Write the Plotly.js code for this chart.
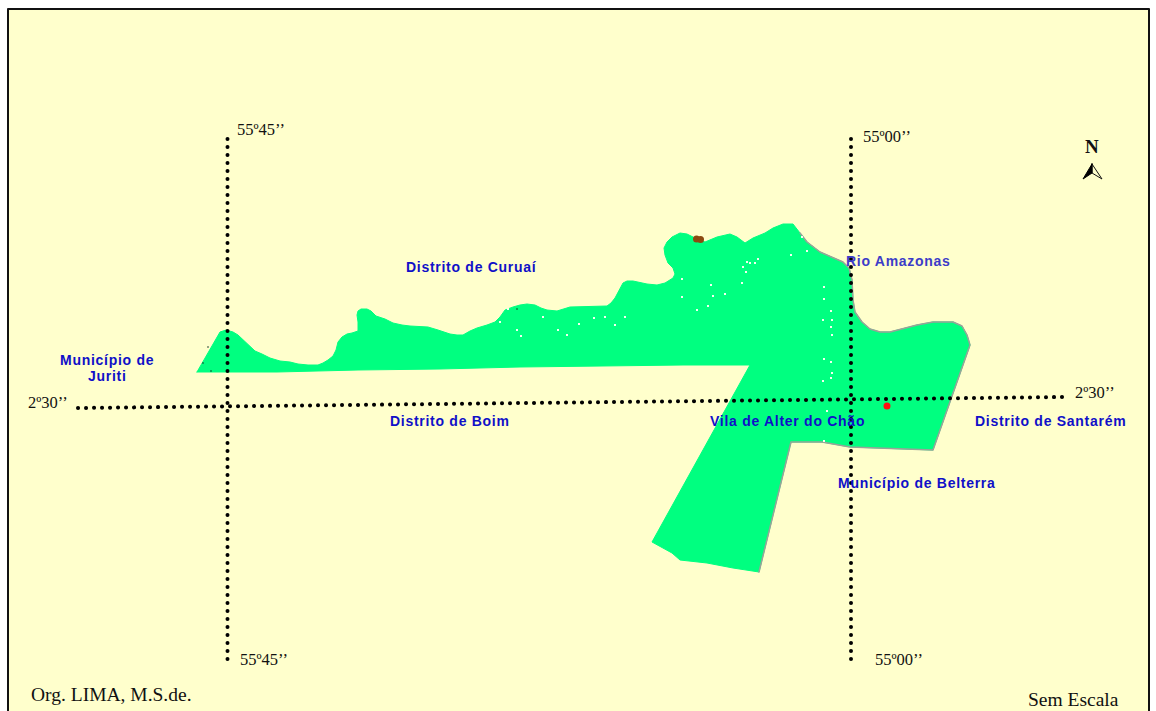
<!DOCTYPE html>
<html><head><meta charset="utf-8">
<script src="https://cdn.plot.ly/plotly-3.0.1.min.js"></script>
<style>html,body{margin:0;padding:0;background:#fff}.js-line{stroke-linecap:round;stroke-linejoin:round}
.annotation-text[style*="Liberation Sans"]{letter-spacing:.72px}</style>
</head><body><div id="chart" style="width:1156px;height:711px"></div>
<script>
const frameX=[8,1149,1149,8,8];
const frameY=[9,9,720,720,9];
const areaX=[197,205,213,220,226,233,238,245,255,262,270,280,290,298,308,318,323,328,333,336,338,342,347,352,358,358,357,358,361,367,371,376,385,393,402,410,428,438,450,457,463,470,477,487,495,500,505,513,520,527,535,541,547,557,570,607,611,615,619,623,627,633,647,657,665,673,675,673,668,665,664,667,672,680,687,695,705,717,730,737,745,753,765,773,783,793,800,807,820,832,843,849,852,853,855,862,870,880,890,917,933,953,962,967,970,933,887,850,822,791,759,733,707,680,672,652,750,683,602,520,440,358,277,197];
const areaY=[372,358,344,332,330,332,335,342,351,354,358,361,362,364,365,365,363,360,356,350,342,337,334,333,331,322,315,311,309,309,311,316,319,323,325,326,327,330,334,335,335,331,328,325,322,317,310,307,305,304,305,308,310,311,307,306,303,298,290,283,281,281,284,285,283,278,274,268,263,255,248,242,237,233,234,238,242,237,234,237,243,238,233,228,224,224,233,242,252,257,262,268,280,300,312,322,329,332,332,325,322,322,326,335,345,450,448,447,442,442,572,568,563,560,553,542,365,365,366,367,369,370,372,372];
const edgeX=[800,807,820,832,843,849,852,853,855,862,870,880,890,917,933,953,962,967,970,933,887,850,822,791,759];
const edgeY=[233,242,252,257,262,268,280,300,312,322,329,332,332,325,322,322,326,335,345,450,448,447,442,442,572];
const speckX=[747,750,755,758,743,746,711,725,742,682,682,697,708,713,824,824,831,823,832,831,832,824,831,832,831,823,827,824,802,791,807,517,521,543,558,567,579,594,605,615,625,500,508];
const speckY=[262,263,263,259,267,272,285,294,283,279,297,310,306,296,287,299,311,320,320,327,335,359,362,373,378,381,411,441,237,255,251,330,336,317,330,335,324,318,317,325,317,322,309];
const darkX=[208,203,211,517];
const darkY=[347,363,371,309];
const blotchX=[696.5,700.5], blotchY=[239,239.5];
const meridian1X=[227.5,227.5], meridian1Y=[139,667];
const meridian2X=[851,851], meridian2Y=[139,660];
const parallelX=[78,1065], parallelY=[408,397];
const arrowDarkX=[1092,1083,1092,1092], arrowDarkY=[164,179,173,164];
const arrowLightX=[1092,1102,1092,1092], arrowLightY=[164,179,173,164];
const labels=[
 ["Distrito de Curuaí",405,267,"#1010c8"],["Rio Amazonas",845,261,"#3c3cc8"],
 ["Distrito de Boim",389,421,"#1010c8"],["Vila de Alter do Chão",709,421,"#1010c8"],
 ["Distrito de Santarém",974,421,"#1010c8"],["Município de Belterra",837,483,"#1010c8"]];
const serifLabels=[
 ["55º45’’",236,129,16.5],["55º00’’",862,136,16.5],["2º30’’",27,402,16.5],["2º30’’",1074,392,16.5],
 ["55º45’’",239,659,16.5],["55º00’’",874,659,16.5],["Org. LIMA, M.S.de.",30,694,19.5],["Sem Escala",1027,699.5,19.5]];
const dots=(x,y)=>({x,y,mode:'lines',hoverinfo:'skip',line:{color:'#000',width:4,dash:'0.1px,7.9px'}});
const traces=[
 {x:frameX,y:frameY,mode:'lines',fill:'toself',fillcolor:'#ffffcc',line:{color:'#111',width:2},hoverinfo:'skip'},
 {x:areaX,y:areaY,mode:'lines',fill:'toself',fillcolor:'#00ff80',line:{color:'#00ff80',width:1},hoverinfo:'skip'},
 {x:edgeX,y:edgeY,mode:'lines',line:{color:'#99a399',width:1.5},hoverinfo:'skip'},
 {x:speckX,y:speckY,mode:'markers',marker:{color:'#f4fff0',size:2,symbol:'square'},hoverinfo:'skip'},
 {x:darkX,y:darkY,mode:'markers',marker:{color:'#113322',size:1.6},hoverinfo:'skip'},
 {x:blotchX,y:blotchY,mode:'markers',marker:{color:'#8b4a10',size:7,line:{width:0}},hoverinfo:'skip'},
 {x:[887],y:[406],mode:'markers',marker:{color:'#ff1010',size:7},hoverinfo:'skip'},
 dots(meridian1X,meridian1Y),dots(meridian2X,meridian2Y),dots(parallelX,parallelY),
 {x:arrowLightX,y:arrowLightY,mode:'lines',fill:'toself',fillcolor:'#ffffcc',line:{color:'#111',width:1},hoverinfo:'skip'},
 {x:arrowDarkX,y:arrowDarkY,mode:'lines',fill:'toself',fillcolor:'#000',line:{color:'#000',width:1},hoverinfo:'skip'}
];
const ann=[];
labels.forEach(l=>ann.push({text:l[0],x:l[1],y:l[2],xref:'x',yref:'y',xanchor:'left',yanchor:'middle',showarrow:false,borderpad:0,font:{family:'Liberation Sans',size:14,color:l[3],weight:700}}));
[["Município de",107,360],["Juriti",107,376]].forEach(l=>ann.push({text:l[0],x:l[1],y:l[2],xref:'x',yref:'y',xanchor:'center',yanchor:'middle',showarrow:false,borderpad:0,font:{family:'Liberation Sans',size:14,color:'#1010c8',weight:700}}));
serifLabels.forEach(l=>ann.push({text:l[0],x:l[1],y:l[2],xref:'x',yref:'y',xanchor:'left',yanchor:'middle',showarrow:false,borderpad:0,font:{family:'Liberation Serif',size:l[3],color:'#111'}}));
ann.push({text:"N",x:1092,y:146,xref:'x',yref:'y',xanchor:'center',yanchor:'middle',showarrow:false,borderpad:0,font:{family:'Liberation Serif',size:19,color:'#111',weight:700}});
Plotly.newPlot('chart',traces,{width:1156,height:711,margin:{l:0,r:0,t:0,b:0},paper_bgcolor:'#fff',plot_bgcolor:'#fff',showlegend:false,
 xaxis:{range:[0,1156],visible:false,fixedrange:true},yaxis:{range:[711,0],visible:false,fixedrange:true},annotations:ann},{displayModeBar:false,staticPlot:true});
</script></body></html>
